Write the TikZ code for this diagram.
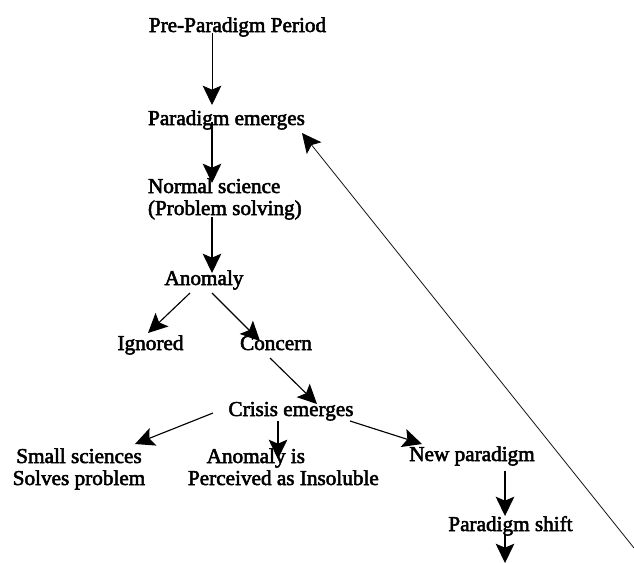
\documentclass[tikz,border=0pt]{standalone}
\usepackage{fontspec}
\setmainfont{Liberation Serif}[FakeBold=2.5]
\usetikzlibrary{arrows.meta}
\begin{document}
\begin{tikzpicture}[x=0.75pt,y=-0.75pt,
  lbl/.style={inner sep=0pt,outer sep=0pt,font=\fontsize{15.9}{16.5}\selectfont},
  arr/.style={line width=0.85pt,-{Stealth[length=14.5pt,width=14pt,inset=3pt]}},
  thinarr/.style={line width=0.55pt,-{Stealth[length=14.5pt,width=14pt,inset=3pt]}}]
\useasboundingbox (0,0) rectangle (634,562);
% nodes
\node[lbl,anchor=base] (pre) at (237.5,32) {Pre-Paradigm Period};
\node[lbl,anchor=base] (emerg) at (226.5,125) {Paradigm emerges};
\node[lbl,anchor=base west,align=left] (normal) at (148,215) {Normal science\\(Problem solving)};
\node[lbl,anchor=base] (anomaly) at (204,285) {Anomaly};
\node[lbl,anchor=base] (ignored) at (150.5,350) {Ignored};
\node[lbl,anchor=base] (concern) at (276,350) {Concern};
\node[lbl,anchor=base] (crisis) at (291,416) {Crisis emerges};
\node[lbl,anchor=base,align=center] (small) at (79,485) {Small sciences\\Solves problem};
\node[lbl,anchor=base west,align=left] (anomis) at (188,485) {\hspace*{14pt}Anomaly is\\Perceived as Insoluble};
\node[lbl,anchor=base] (newpar) at (472,461) {New paradigm};
\node[lbl,anchor=base] (pshift) at (510.5,531) {Paradigm shift};
\coordinate (bot) at (505,563);
\coordinate (tail) at (634,548);
% connectors
\draw[thinarr] ([shift={(-25.5,1)}]pre.base) -- ([shift={(-14.5,-20)}]emerg.base);
\draw[arr] ([shift={(-14.5,-3)}]emerg.base) -- ([shift={(64,-32)}]normal.base west);
\draw[arr] ([shift={(64,2)}]normal.base west) -- ([shift={(8,-12)}]anomaly.base);
\draw[arr] ([shift={(-14,8)}]anomaly.base) -- ([shift={(-2.5,-17)}]ignored.base);
\draw[arr] ([shift={(8,8)}]anomaly.base) -- ([shift={(-16,-9)}]concern.base);
\draw[arr] ([shift={(-6,8)}]concern.base) -- ([shift={(26,-12)}]crisis.base);
\draw[arr] ([shift={(-78,-3)}]crisis.base) -- ([shift={(56,-41)}]small.base);
\draw[arr] ([shift={(-13,5)}]crisis.base) -- ([shift={(90,-26)}]anomis.base west);
\draw[arr] ([shift={(59,5)}]crisis.base) -- ([shift={(-50,-17)}]newpar.base);
\draw[arr] ([shift={(33,10)}]newpar.base) -- ([shift={(-5.5,-15)}]pshift.base);
\draw[arr] ([shift={(-5.5,3)}]pshift.base) -- (bot);
\draw[thinarr] (tail) -- ([shift={(75.5,8)}]emerg.base);
\end{tikzpicture}
\end{document}
